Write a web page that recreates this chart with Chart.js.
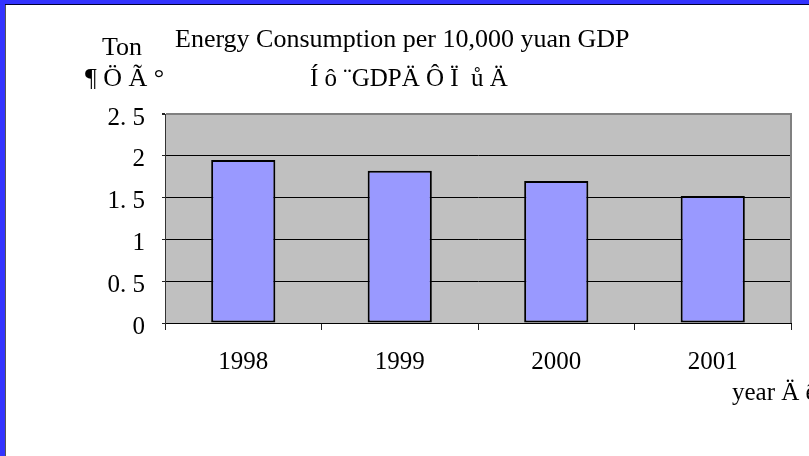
<!DOCTYPE html>
<html><head><meta charset="utf-8">
<script src="https://cdn.jsdelivr.net/npm/chart.js@4.4.0/dist/chart.umd.min.js"></script>
<style>html,body{margin:0;padding:0;background:#fff;overflow:hidden}canvas{display:block}</style>
</head><body>
<canvas id="c" width="809" height="456"></canvas>
<script>
const categories = ['1998', '1999', '2000', '2001'];
const energyPerGDP = [1.95, 1.82, 1.70, 1.52];
const yTickLabels = ['0', '0. 5', '1', '1. 5', '2', '2. 5'];
const titleLine1 = 'Energy Consumption per 10,000 yuan GDP';
const titleLine2 = 'Í ô ¨GDPÄ Ô Ï  ů Ä';
const yUnitLine1 = 'Ton';
const yUnitLine2 = '¶ Ö Ã °';
const xUnit = 'year Ä ê';

const SERIF = "'Liberation Serif', 'Times New Roman', serif";

const decor = {
  id: 'decor',
  beforeDraw(chart) {
    const ctx = chart.ctx, a = chart.chartArea;
    ctx.save();
    ctx.fillStyle = '#ffffff';
    ctx.fillRect(0, 0, chart.width, chart.height);
    ctx.fillStyle = '#C0C0C0';
    ctx.fillRect(a.left, a.top, a.right - a.left, a.bottom - a.top);
    ctx.restore();
  },
  afterDraw(chart) {
    const ctx = chart.ctx, a = chart.chartArea;
    ctx.save();
    // right border of plot
    ctx.fillStyle = '#808080';
    ctx.fillRect(a.right - 1, a.top - 1, 2, a.bottom - a.top + 1);
    // frame
    ctx.fillStyle = '#3333FF';
    ctx.fillRect(0, 0, 5, chart.height);
    ctx.fillRect(0, 0, chart.width, 4);
    ctx.fillStyle = '#000033';
    ctx.fillRect(5, 4, chart.width - 5, 1);
    ctx.fillStyle = '#555555';
    ctx.fillRect(5, 5, 1, chart.height - 5);
    // texts
    ctx.fillStyle = '#000';
    ctx.textBaseline = 'alphabetic';
    ctx.textAlign = 'left';
    ctx.font = '26px ' + SERIF;
    ctx.fillText(yUnitLine1, 102, 55);
    ctx.fillText(yUnitLine2, 85, 86);
    ctx.fillText(titleLine1, 175, 47);
    ctx.font = '25px ' + SERIF;
    ctx.fillText(titleLine2, 310, 86);
    ctx.fillText(xUnit, 732, 400);
    ctx.restore();
  }
};

new Chart(document.getElementById('c'), {
  type: 'bar',
  data: {
    labels: categories,
    datasets: [{
      data: energyPerGDP,
      backgroundColor: '#9999FF',
      borderColor: '#000000',
      borderWidth: 2,
      borderSkipped: false,
      barPercentage: 0.41,
      categoryPercentage: 1.0
    }]
  },
  options: {
    responsive: false,
    devicePixelRatio: 1,
    animation: false,
    layout: { padding: { top: 114, right: 18, left: 0, bottom: 0 } },
    plugins: { legend: { display: false }, tooltip: { enabled: false }, title: { display: false } },
    scales: {
      x: {
        afterFit(s) { s.height = 133; },
        grid: { offset: true, drawOnChartArea: false, drawTicks: true, tickLength: 7, color: '#222', lineWidth: 1 },
        border: { display: true, color: '#000', width: 1 },
        ticks: { color: '#000', font: { family: SERIF, size: 25 }, padding: 17, maxRotation: 0 }
      },
      y: {
        min: 0, max: 2.5,
        afterFit(s) { s.width = 165; },
        grid: {
          color: (c) => (c.index === 5 ? '#808080' : '#000000'),
          lineWidth: (c) => (c.index === 5 ? 2 : 1),
          tickColor: '#222',
          tickLength: 3,
          drawTicks: true
        },
        border: { display: true, color: '#333', width: 1 },
        ticks: {
          stepSize: 0.5,
          color: '#000',
          font: { family: SERIF, size: 25 },
          padding: 17,
          labelOffset: 4,
          callback: (v, i) => yTickLabels[i]
        }
      }
    }
  },
  plugins: [decor]
});
</script>
</body></html>
